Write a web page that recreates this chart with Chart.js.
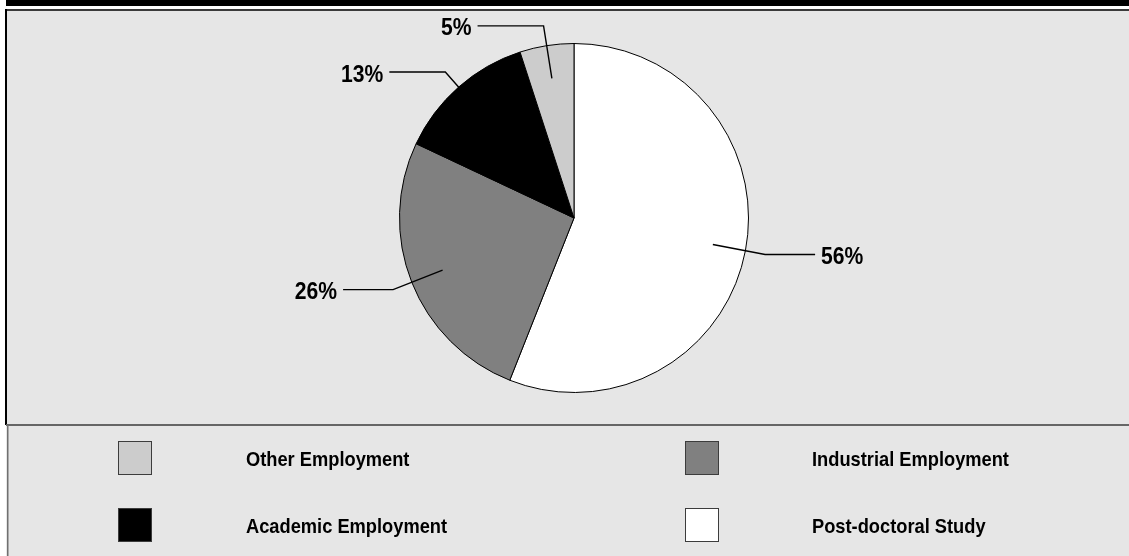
<!DOCTYPE html>
<html>
<head>
<meta charset="utf-8">
<script src="https://cdn.jsdelivr.net/npm/chart.js@4.4.0/dist/chart.umd.min.js"></script>
<style>
  html, body { margin: 0; padding: 0; background: #ffffff; }
  #wrap { width: 1129px; height: 556px; position: relative; }
</style>
</head>
<body>
<div id="wrap"><canvas id="c" width="1129" height="556"></canvas></div>
<script>
// ---- data ----
const categories = ['Post-doctoral Study', 'Industrial Employment', 'Academic Employment', 'Other Employment'];
const shares = [56, 26, 13, 5];
const sliceLabels = ['56%', '26%', '13%', '5%'];
const sliceColors = ['#ffffff', '#808080', '#000000', '#cccccc'];
// legend order as shown in the picture (row by row)
const legendOrder = ['Other Employment', 'Industrial Employment', 'Academic Employment', 'Post-doctoral Study'];

// ---- style / layout ----
const FONT = '"Liberation Sans", Arial, sans-serif';
const leaderLen = [50, 50, 56, 66];
const BG = '#e6e6e6';

// draw condensed text (the original uses a narrow Helvetica)
function narrowText(ctx, text, x, y, sx) {
  ctx.save();
  ctx.translate(x, y);
  ctx.scale(sx, 1);
  ctx.fillText(text, 0, 0);
  ctx.restore();
}

const framePlugin = {
  id: 'frame',
  beforeDraw(chart) {
    const ctx = chart.ctx;
    const W = chart.width, H = chart.height;
    ctx.save();
    ctx.fillStyle = '#ffffff';
    ctx.fillRect(0, 0, W, H);
    ctx.fillStyle = '#000000';
    ctx.fillRect(6, 0, W - 6, 6);
    ctx.fillStyle = BG;
    ctx.fillRect(6, 9, W - 6, H - 9);
    ctx.fillStyle = '#3a3a3a';
    ctx.fillRect(6, 9, W - 6, 2);
    ctx.fillStyle = '#000000';
    ctx.fillRect(5, 9, 2, 416);
    ctx.fillStyle = '#666666';
    ctx.fillRect(6, 424, W - 6, 2);
    ctx.fillStyle = '#707070';
    ctx.fillRect(7, 425, 1.5, H - 425);
    ctx.restore();
  }
};

const labelPlugin = {
  id: 'leaders',
  afterDatasetsDraw(chart) {
    const ctx = chart.ctx;
    const meta = chart.getDatasetMeta(0);
    ctx.save();
    ctx.strokeStyle = '#000000';
    ctx.lineWidth = 1.4;
    ctx.fillStyle = '#000000';
    ctx.font = 'bold 24px ' + FONT;
    ctx.textBaseline = 'alphabetic';
    meta.data.forEach((arc, i) => {
      const p = arc.getProps(['x', 'y', 'startAngle', 'endAngle', 'outerRadius'], true);
      const mid = (p.startAngle + p.endAngle) / 2;
      const r = p.outerRadius;
      const x0 = p.x + Math.cos(mid) * r * 0.81;
      const y0 = p.y + Math.sin(mid) * r * 0.81;
      const x1 = p.x + Math.cos(mid) * r * 1.115;
      const y1 = p.y + Math.sin(mid) * r * 1.115;
      const dir = Math.cos(mid) >= 0 ? 1 : -1;
      const x2 = x1 + dir * leaderLen[i];
      ctx.beginPath();
      ctx.moveTo(x0, y0);
      ctx.lineTo(x1, y1);
      ctx.lineTo(x2, y1);
      ctx.stroke();
      ctx.textAlign = dir > 0 ? 'left' : 'right';
      narrowText(ctx, sliceLabels[i], x2 + dir * 6, y1 + 9.5, 0.88);
    });
    ctx.restore();
  }
};

const legendPlugin = {
  id: 'customLegend',
  afterDraw(chart) {
    const ctx = chart.ctx;
    const ds = chart.data.datasets[0];
    const colX = [118, 685];
    const textX = [246, 812];
    const rowY = [441, 508];
    ctx.save();
    ctx.font = 'bold 21px ' + FONT;
    ctx.textBaseline = 'alphabetic';
    ctx.textAlign = 'left';
    legendOrder.forEach((name, k) => {
      const idx = chart.data.labels.indexOf(name);
      const c = k % 2, r = Math.floor(k / 2);
      ctx.fillStyle = ds.backgroundColor[idx];
      ctx.fillRect(colX[c], rowY[r], 34, 34);
      ctx.strokeStyle = '#3c3c3c';
      ctx.lineWidth = 1;
      ctx.strokeRect(colX[c] + 0.5, rowY[r] + 0.5, 33, 33);
      ctx.fillStyle = '#000000';
      narrowText(ctx, name, textX[c], rowY[r] + 25, 0.87);
    });
    ctx.restore();
  }
};

new Chart(document.getElementById('c'), {
  type: 'pie',
  data: {
    labels: categories,
    datasets: [{
      data: shares,
      backgroundColor: sliceColors,
      borderColor: '#000000',
      borderWidth: 1
    }]
  },
  options: {
    responsive: false,
    animation: false,
    layout: { padding: { left: 399, right: 380, top: 43, bottom: 163 } },
    plugins: {
      legend: { display: false },
      tooltip: { enabled: false }
    }
  },
  plugins: [framePlugin, labelPlugin, legendPlugin]
});
</script>
</body>
</html>
